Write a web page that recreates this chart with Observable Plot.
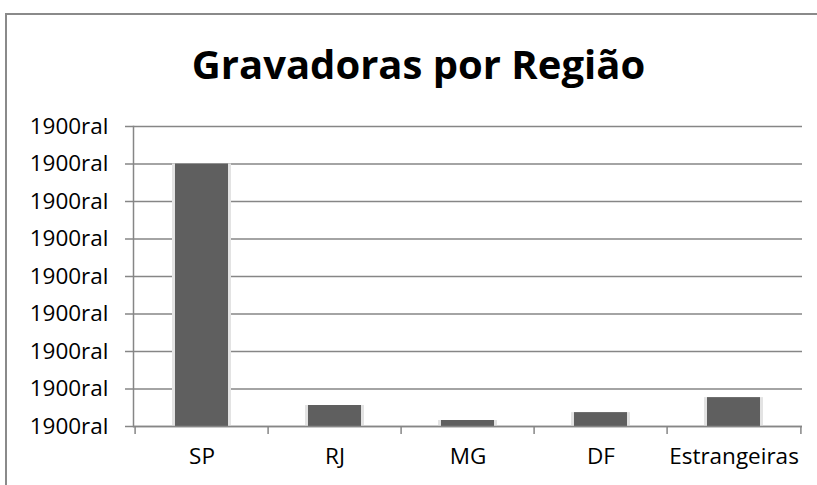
<!DOCTYPE html>
<html><head><meta charset="utf-8">
<script src="https://cdn.jsdelivr.net/npm/d3@7"></script>
<script src="https://cdn.jsdelivr.net/npm/@observablehq/plot@0.6"></script>
<style>
html,body{margin:0;background:#fff;overflow:hidden;}
#wrap{position:relative;width:817px;height:485px;overflow:hidden;}
#frame{position:absolute;left:5px;top:13px;width:830px;height:500px;border-left:2px solid #8a8a8a;border-top:2px solid #8a8a8a;box-sizing:border-box;}
#title{position:absolute;left:10px;width:817px;top:38px;text-align:center;font-family:"Open Sans";font-weight:700;font-size:40px;line-height:52px;color:#000;}
#chart{position:absolute;left:0;top:0;}
</style></head>
<body><div id="wrap"><div id="frame"></div><div id="title">Gravadoras por Região</div><div id="chart"></div></div>
<script>
const categories = ["SP","RJ","MG","DF","Estrangeiras"];
const values = [7, 0.56, 0.16, 0.37, 0.77];
const yTicks = [0,1,2,3,4,5,6,7,8];
const yTickLabel = "1900ral";

const data = categories.map((c,i)=>({cat:c, v:values[i]}));
const W=817, H=485, mL=133, mR=15, mT=126, mB=59;
const step = (W-mL-mR)/categories.length;

const plot = Plot.plot({
  width:W, height:H, marginLeft:mL, marginRight:mR, marginTop:mT, marginBottom:mB,
  style:{fontFamily:"Open Sans", fontSize:"22.5px", color:"#000", background:"transparent"},
  x:{domain:categories, padding:0, label:null},
  y:{domain:[0,8], label:null},
  marks:[
    Plot.gridY(yTicks,{stroke:"#868686", strokeOpacity:1, strokeWidth:1.5}),
    Plot.axisY(yTicks,{tickFormat:()=>yTickLabel, tickSize:8, tickPadding:17, stroke:"#868686", strokeWidth:1.5, fill:"#000", label:null}),
    Plot.frame({anchor:"left", stroke:"#868686", strokeWidth:1.5}),
    Plot.barY(data,{x:"cat", y:"v", fill:"#e3e3e3", insetLeft:37, insetRight:37}),
    Plot.barY(data,{x:"cat", y:"v", fill:"#5f5f5f", insetLeft:40, insetRight:40}),
    Plot.ruleY([0],{stroke:"#868686", strokeWidth:1.5}),
    Plot.tickX(categories,{x:d=>d, dx:-step/2, stroke:"#868686", strokeWidth:1.5, render:(i,s,v,d,c,next)=>{const g=next(i,s,v,d,c); d3.select(g).selectAll("line").attr("y1",H-mB).attr("y2",H-mB+8); return g;}}),
    Plot.tickX([categories[categories.length-1]],{x:d=>d, dx:step/2, stroke:"#868686", strokeWidth:1.5, render:(i,s,v,d,c,next)=>{const g=next(i,s,v,d,c); d3.select(g).selectAll("line").attr("y1",H-mB).attr("y2",H-mB+8); return g;}}),
    Plot.axisX({tickSize:0, tickPadding:22, fill:"#000", label:null})
  ]
});
document.getElementById("chart").appendChild(plot);
</script></body></html>
